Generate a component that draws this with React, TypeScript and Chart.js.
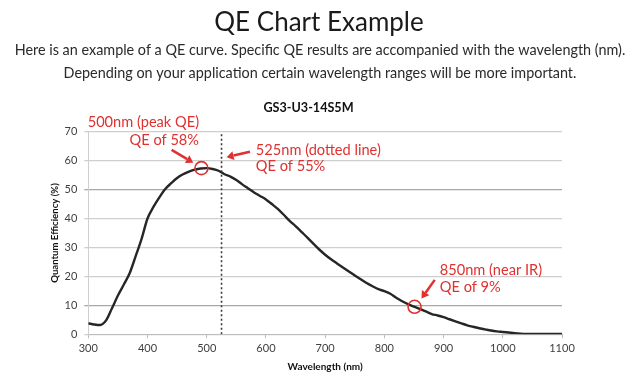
import { useEffect, useRef } from "react";
import { Chart, registerables } from "chart.js";

Chart.register(...registerables);

// ---- data ----
const WAVELENGTHS = [
  300, 310, 320, 330, 340, 350, 360, 370, 380, 390,
  400, 410, 420, 430, 440, 450, 460, 470, 480, 490,
  500, 510, 520, 530, 540, 550, 560, 570, 580, 590,
  600, 610, 620, 630, 640, 650, 660, 670, 680, 690,
  700, 710, 720, 730, 740, 750, 760, 770, 780, 790,
  800, 810, 820, 830, 840, 850, 860, 870, 880, 890,
  900, 910, 920, 930, 940, 950, 960, 970, 980, 990,
  1000, 1010, 1020, 1030, 1040, 1050, 1060, 1070, 1080, 1090, 1100,
];
const QE_VALUES = [
  3.8, 3.4, 3.2, 4.8, 9.0, 13.4, 17.2, 21.2, 27.0, 33.0,
  40.0, 44.0, 47.3, 50.2, 52.2, 54.0, 55.3, 56.2, 56.9, 57.3,
  57.4, 57.1, 56.5, 55.3, 54.5, 53.3, 51.8, 50.4, 49.0, 47.8,
  46.6, 45.0, 43.3, 41.3, 39.2, 37.4, 35.4, 33.4, 31.3, 29.3,
  27.5, 25.9, 24.5, 23.1, 21.7, 20.3, 19.0, 17.7, 16.6, 15.6,
  14.9, 14.0, 12.6, 11.4, 10.4, 9.6, 8.8, 7.9, 7.0, 6.5,
  5.9, 5.2, 4.5, 3.8, 3.1, 2.6, 2.1, 1.7, 1.3, 1.0,
  0.8, 0.6, 0.4, 0.25, 0.15, 0.1, 0.1, 0.1, 0.1, 0.1, 0.1,
];
const X_MIN = 300;
const X_MAX = 1100;
const X_STEP = 100;
const Y_MIN = 0;
const Y_MAX = 70;
const Y_STEP = 10;
const DOTTED_NM = 525;
const MARKER_X = [491, 851];
const MARKER_Y = [57.4, 9.5];

const PAGE_TITLE = "QE Chart Example";
const PAGE_SUBTITLE = [
  "Here is an example of a QE curve. Specific QE results are accompanied with the wavelength (nm).",
  "Depending on your application certain wavelength ranges will be more important.",
];
const CHART_TITLE = "GS3-U3-14S5M";
const X_TITLE = "Wavelength (nm)";
const Y_TITLE = "Quantum Efficiency (%)";

// annotation texts anchored at data coordinates
const NOTE_TEXTS = [
  { text: "500nm (peak QE)", x: 487, y: 73.1, align: "right" },
  { text: "QE of 58%", x: 487, y: 67.1, align: "right" },
  { text: "525nm (dotted line)", x: 583, y: 63.7, align: "left" },
  { text: "QE of 55%", x: 583, y: 58.2, align: "left" },
  { text: "850nm (near IR)", x: 893.6, y: 22.0, align: "left" },
  { text: "QE of 9%", x: 893.6, y: 16.2, align: "left" },
];
// arrows: tail -> head in data coordinates
const ARROW_TAIL_X = [440.6, 573, 885.1];
const ARROW_TAIL_Y = [63.7, 63.1, 18.8];
const ARROW_HEAD_X = [477.2, 533.6, 862.7];
const ARROW_HEAD_Y = [59.3, 61.2, 12.4];

const RED = "#e0302f";
const FONT = "Lato, 'Open Sans', sans-serif";

const overlayPlugin = {
  id: "overlay",
  afterDraw(chart: any) {
    const { ctx, scales } = chart;
    const xs = scales.x;
    const ys = scales.y;
    ctx.save();
    // header
    ctx.fillStyle = "#1a1a1a";
    ctx.textAlign = "center";
    ctx.textBaseline = "middle";
    ctx.font = `400 26px ${FONT}`;
    ctx.fillText(PAGE_TITLE, 319, 23);
    ctx.fillStyle = "#2a2a2a";
    ctx.font = `400 14.4px ${FONT}`;
    ctx.fillText(PAGE_SUBTITLE[0], 320, 50);
    ctx.fillText(PAGE_SUBTITLE[1], 320, 73);
    // chart title
    ctx.fillStyle = "#111";
    ctx.font = `700 12.6px ${FONT}`;
    ctx.fillText(CHART_TITLE, 308.5, 108);

    // annotation texts
    ctx.fillStyle = RED;
    ctx.font = `400 14.6px ${FONT}`;
    ctx.textBaseline = "middle";
    NOTE_TEXTS.forEach((n) => {
      ctx.textAlign = n.align;
      ctx.fillText(n.text, xs.getPixelForValue(n.x), ys.getPixelForValue(n.y));
    });

    // arrows
    ctx.strokeStyle = RED;
    ctx.fillStyle = RED;
    ctx.lineWidth = 2.5;
    for (let i = 0; i < ARROW_TAIL_X.length; i++) {
      const x1 = xs.getPixelForValue(ARROW_TAIL_X[i]);
      const y1 = ys.getPixelForValue(ARROW_TAIL_Y[i]);
      const x2 = xs.getPixelForValue(ARROW_HEAD_X[i]);
      const y2 = ys.getPixelForValue(ARROW_HEAD_Y[i]);
      const ang = Math.atan2(y2 - y1, x2 - x1);
      const hl = 7;
      const hw = 4.5;
      const bx = x2 - hl * Math.cos(ang);
      const by = y2 - hl * Math.sin(ang);
      ctx.beginPath();
      ctx.moveTo(x1, y1);
      ctx.lineTo(bx, by);
      ctx.stroke();
      ctx.beginPath();
      ctx.moveTo(x2, y2);
      ctx.lineTo(bx + hw * Math.sin(ang), by - hw * Math.cos(ang));
      ctx.lineTo(bx - hw * Math.sin(ang), by + hw * Math.cos(ang));
      ctx.closePath();
      ctx.fill();
    }
    ctx.restore();
  },
};

export default function App() {
  const ref = useRef<HTMLCanvasElement | null>(null);
  useEffect(() => {
    if (!ref.current) return;
    const curve = WAVELENGTHS.map((w, i) => ({ x: w, y: QE_VALUES[i] }));
    const dotted = [
      { x: DOTTED_NM, y: Y_MIN },
      { x: DOTTED_NM, y: Y_MAX },
    ];
    const markers = MARKER_X.map((x, i) => ({ x, y: MARKER_Y[i] }));
    const chart = new Chart(ref.current, {
      type: "scatter",
      data: {
        datasets: [
          {
            type: "line",
            data: curve,
            borderColor: "#262626",
            borderWidth: 2.4,
            pointRadius: 0,
            cubicInterpolationMode: "monotone",
            fill: false,
            order: 2,
          },
          {
            type: "line",
            data: dotted,
            borderColor: "#3a3a3a",
            borderWidth: 1.6,
            borderDash: [2, 2.5],
            pointRadius: 0,
            fill: false,
            order: 1,
          },
          {
            type: "scatter",
            data: markers,
            pointRadius: 6.5,
            pointStyle: "circle",
            borderColor: RED,
            backgroundColor: "rgba(0,0,0,0)",
            borderWidth: 1.6,
            order: 0,
          },
        ],
      },
      options: {
        responsive: false,
        animation: false,
        events: [],
        layout: { padding: { left: 45.6, right: 75, top: 131.7, bottom: 0 } },
        plugins: {
          legend: { display: false },
          tooltip: { enabled: false },
          title: { display: false },
        },
        scales: {
          x: {
            type: "linear",
            min: X_MIN,
            max: X_MAX,
            afterFit: (s: any) => {
              s.height = 46.7;
            },
            ticks: {
              stepSize: X_STEP,
              color: "#404040",
              font: { family: FONT, size: 11 },
              padding: 4,
              maxRotation: 0,
              callback: (v: any) => String(v),
            },
            grid: {
              drawOnChartArea: false,
              drawTicks: true,
              tickLength: 4,
              color: "#bdbdbd",
            },
            border: { display: true, color: "#bdbdbd", width: 1 },
            title: {
              display: true,
              text: X_TITLE,
              color: "#111",
              font: { family: FONT, size: 10, weight: "bold" },
              padding: { top: 0, bottom: 8 },
            },
          },
          y: {
            type: "linear",
            min: Y_MIN,
            max: Y_MAX,
            afterFit: (s: any) => {
              s.width = 88.3 - 45.6;
            },
            ticks: {
              stepSize: Y_STEP,
              color: "#404040",
              font: { family: FONT, size: 11 },
              padding: 7,
            },
            grid: {
              drawTicks: true,
              tickLength: 4,
              lineWidth: 1.3,
              color: (c: any) =>
                c.tick && (c.tick.value === 50 || c.tick.value === 10)
                  ? "#a8a8a8"
                  : "#cfcfcf",
            },
            border: { display: true, color: "#cfcfcf", width: 1 },
            title: {
              display: true,
              text: Y_TITLE,
              color: "#111",
              font: { family: FONT, size: 9.6, weight: "bold" },
              padding: { top: 4, bottom: 0 },
            },
          },
        },
      },
      plugins: [overlayPlugin],
    });
    return () => chart.destroy();
  }, []);
  return (
    <div style={{ position: "absolute", left: 0, top: 0, width: 637, height: 381, background: "#fff" }}>
      <canvas ref={ref} width={637} height={381} style={{ display: "block" }} />
    </div>
  );
}
